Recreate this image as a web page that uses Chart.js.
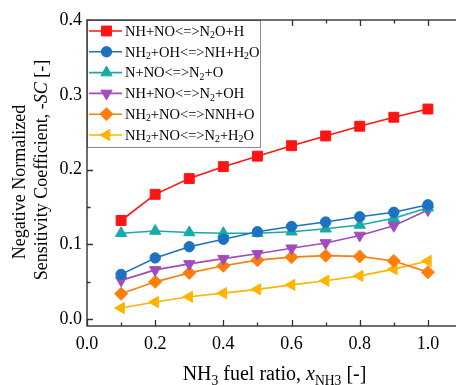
<!DOCTYPE html>
<html>
<head>
<meta charset="utf-8">
<script src="https://cdn.jsdelivr.net/npm/chart.js@4/dist/chart.umd.min.js"></script>
<style>
  html, body { margin: 0; padding: 0; background: #fff; overflow: hidden; }
  #wrap { width: 456px; height: 385px; overflow: hidden; }
</style>
</head>
<body>
<div id="wrap"><canvas id="chart" width="470" height="385"></canvas></div>
<script>
// NH3 fuel ratio
const fuelRatio = [0.1, 0.2, 0.3, 0.4, 0.5, 0.6, 0.7, 0.8, 0.9, 1.0];

// reactions; {..} = subscript, |..| = italic
const reactions = [
    "NH+NO<=>N{2}O+H",
    "NH{2}+OH<=>NH+H{2}O",
    "N+NO<=>N{2}+O",
    "NH+NO<=>N{2}+OH",
    "NH{2}+NO<=>NNH+O",
    "NH{2}+NO<=>N{2}+H{2}O"
];

const scNH_NO_N2OH_ = [0.132, 0.167, 0.188, 0.204, 0.218, 0.232, 0.245, 0.258, 0.270, 0.281];
const scNH2_OH = [0.060, 0.082, 0.097, 0.107, 0.117, 0.124, 0.130, 0.137, 0.143, 0.153];
const scN_NO = [0.115, 0.118, 0.116, 0.115, 0.115, 0.117, 0.121, 0.126, 0.135, 0.149];
const scNH_NO_N2OH = [0.052, 0.066, 0.074, 0.081, 0.0875, 0.095, 0.102, 0.112, 0.125, 0.146];
const scNH2_NO_NNH = [0.034, 0.050, 0.062, 0.0715, 0.079, 0.083, 0.085, 0.084, 0.078, 0.063];
const scNH2_NO_N2H2O = [0.015, 0.023, 0.030, 0.035, 0.040, 0.046, 0.0515, 0.058, 0.067, 0.078];

const xMajor = [0.0, 0.2, 0.4, 0.6, 0.8, 1.0];
const xMinor = [0.1, 0.3, 0.5, 0.7, 0.9, 1.1];
const yMajor = [0.0, 0.1, 0.2, 0.3, 0.4];
const yMinor = [0.05, 0.15, 0.25, 0.35];

const colors = ["#ff1414", "#1c72c0", "#18aaa6", "#a24cbc", "#ff7d0a", "#ffb400"];
const markers = [
    { style: "rect", rot: 0, r: 7 },
    { style: "circle", rot: 0, r: 5.2 },
    { style: "triangle", rot: 0, r: 6.5 },
    { style: "triangle", rot: 180, r: 6.5 },
    { style: "rectRot", rot: 0, r: 6.5 },
    { style: "triangle", rot: 270, r: 6.5 }
];
const series = [scNH_NO_N2OH_, scNH2_OH, scN_NO, scNH_NO_N2OH, scNH2_NO_NNH, scNH2_NO_N2H2O];

const SERIF = "'Liberation Serif', 'Times New Roman', serif";
const AXIS = "#333";

// draw text with {sub} and |italic| markup, returns width
function richText(ctx, str, x, y, size, measureOnly) {
    let sub = false, ital = false, cx = x;
    let buf = "";
    const flush = () => {
        if (!buf) return;
        const s = sub ? size * 0.68 : size;
        ctx.font = (ital ? "italic " : "") + s + "px " + SERIF;
        if (!measureOnly) ctx.fillText(buf, cx, y + (sub ? size * 0.25 : 0));
        cx += ctx.measureText(buf).width;
        buf = "";
    };
    for (const ch of str) {
        if (ch === "{") { flush(); sub = true; }
        else if (ch === "}") { flush(); sub = false; }
        else if (ch === "|") { flush(); ital = !ital; }
        else buf += ch;
    }
    flush();
    return cx - x;
}

const datasets = series.map((d, i) => ({
    label: reactions[i],
    data: fuelRatio.map((x, j) => ({ x: x, y: d[j] })),
    borderColor: colors[i],
    backgroundColor: colors[i],
    pointBackgroundColor: colors[i],
    pointBorderColor: colors[i],
    borderWidth: 1.6,
    pointBorderWidth: 1,
    pointStyle: markers[i].style,
    pointRotation: markers[i].rot,
    pointRadius: markers[i].r,
    pointHoverRadius: markers[i].r,
    tension: 0
}));

const frame = {
    id: "frame",
    afterDraw(chart) {
        const ctx = chart.ctx;
        const a = chart.chartArea;
        const xs = chart.scales.x, ys = chart.scales.y;
        ctx.save();

        // inward ticks, mirrored on top
        ctx.strokeStyle = AXIS;
        ctx.lineWidth = 1.3;
        ctx.beginPath();
        const tickX = (v, len) => {
            const px = Math.round(xs.getPixelForValue(v)) + 0.5;
            ctx.moveTo(px, a.bottom); ctx.lineTo(px, a.bottom - len);
            ctx.moveTo(px, a.top); ctx.lineTo(px, a.top + len);
        };
        const tickY = (v, len) => {
            const py = Math.round(ys.getPixelForValue(v)) + 0.5;
            ctx.moveTo(a.left, py); ctx.lineTo(a.left + len, py);
            ctx.moveTo(a.right, py); ctx.lineTo(a.right - len, py);
        };
        xMajor.forEach(v => tickX(v, 6));
        xMinor.forEach(v => tickX(v, 3.5));
        yMajor.forEach(v => tickY(v, 6));
        yMinor.forEach(v => tickY(v, 3.5));
        ctx.stroke();

        // legend box
        const lx = a.left, ly = a.top, lw = 173, lh = 127;
        ctx.fillStyle = "#fff";
        ctx.fillRect(lx, ly, lw, lh);
        ctx.strokeStyle = "#8a8a8a";
        ctx.lineWidth = 1;
        ctx.strokeRect(lx + 0.5, ly + 0.5, lw, lh);
        chart.data.datasets.forEach((ds, i) => {
            const cy = ly + 11 + i * 20.8;
            ctx.strokeStyle = ds.borderColor;
            ctx.lineWidth = 1.6;
            ctx.beginPath();
            ctx.moveTo(lx + 2, cy); ctx.lineTo(lx + 35, cy);
            ctx.stroke();
            ctx.fillStyle = ds.pointBackgroundColor;
            ctx.lineWidth = 1;
            Chart.helpers.drawPoint(ctx, {
                pointStyle: ds.pointStyle, rotation: ds.pointRotation,
                radius: ds.pointRadius, borderWidth: 1
            }, lx + 19.5, cy);
            ctx.fillStyle = "#000";
            ctx.textBaseline = "middle";
            ctx.textAlign = "left";
            richText(ctx, ds.label, lx + 38, cy + 1, 14.5);
        });

        // axis frame
        ctx.strokeStyle = AXIS;
        ctx.lineWidth = 1.4;
        ctx.strokeRect(a.left, a.top, a.right - a.left, a.bottom - a.top);

        // x title
        ctx.fillStyle = "#000";
        ctx.textBaseline = "alphabetic";
        ctx.textAlign = "left";
        const xt = "NH{3} fuel ratio, |x|{NH3} [-]";
        const xw = richText(ctx, xt, 0, 0, 20, true);
        richText(ctx, xt, (a.left + a.right) / 2 - xw / 2, 380, 20);

        // y title, two rotated lines
        const lines = [["Negative Normalized", 25, 182], ["Sensitivity Coefficient, -|SC| [-]", 47, 170]];
        lines.forEach(([t, bx, cy]) => {
            ctx.save();
            ctx.translate(bx, cy);
            ctx.rotate(-Math.PI / 2);
            const w = richText(ctx, t, 0, 0, 18, true);
            richText(ctx, t, -w / 2, 0, 18);
            ctx.restore();
        });
        ctx.restore();
    }
};

new Chart(document.getElementById("chart"), {
    type: "line",
    data: { datasets: datasets },
    options: {
        responsive: false,
        animation: false,
        devicePixelRatio: 1,
        layout: { padding: { top: 20, right: 3, left: 0, bottom: 0 } },
        plugins: { legend: { display: false }, tooltip: { enabled: false } },
        scales: {
            x: {
                type: "linear",
                min: 0,
                max: 1.1,
                grid: { display: false, drawTicks: false },
                border: { display: false },
                afterBuildTicks: s => { s.ticks = xMajor.map(v => ({ value: v })); },
                afterFit: s => { s.height = 59; },
                ticks: {
                    autoSkip: false,
                    maxRotation: 0,
                    padding: 7,
                    color: "#000",
                    font: { family: SERIF, size: 18 },
                    callback: v => v.toFixed(1)
                }
            },
            y: {
                type: "linear",
                min: -0.009,
                max: 0.4,
                grid: { display: false, drawTicks: false },
                border: { display: false },
                afterBuildTicks: s => { s.ticks = yMajor.map(v => ({ value: v })); },
                afterFit: s => { s.width = 87; },
                ticks: {
                    padding: 5,
                    color: "#000",
                    font: { family: SERIF, size: 18 },
                    callback: v => v.toFixed(1)
                }
            }
        }
    },
    plugins: [frame]
});
</script>
</body>
</html>
